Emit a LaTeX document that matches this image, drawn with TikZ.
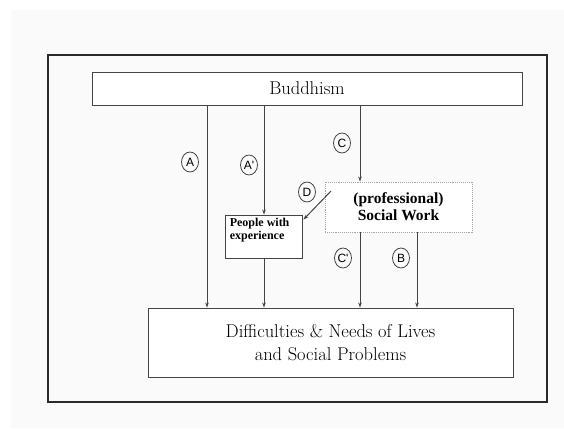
\documentclass[tikz,border=0pt]{standalone}
\usepackage{fontspec}
\newfontfamily\boldserif{Liberation Serif Bold}
\newfontfamily\tagfont{Liberation Sans}
\usetikzlibrary{shapes.geometric,arrows.meta,calc}

\definecolor{ink}{HTML}{444444}
\definecolor{frameink}{HTML}{2A2A2A}
\definecolor{paper}{HTML}{FAFAFA}

\begin{document}
\begin{tikzpicture}[x=1pt,y=-1pt,
  box/.style={draw=ink, line width=0.9pt, fill=white, rectangle, inner sep=0pt},
  flow/.style={draw=ink, line width=1pt, -{Stealth[length=5pt,width=3.5pt]}},
  tag/.style={draw=ink, line width=0.8pt, ellipse, inner sep=0pt,
    minimum width=17pt, minimum height=20pt, font=\tagfont\fontsize{12}{12}\selectfont},
  bigtext/.style={font=\fontsize{18.5}{23}\selectfont, align=center}
]
\useasboundingbox (0,0) rectangle (564,428);
% page background and outer frame
\fill[paper] (11,10) rectangle (564,428);
\draw[frameink, line width=2pt] (48,55) rectangle (547,402);

% main boxes
\node[box, minimum width=430pt, minimum height=33pt, bigtext] (bud) at (307,88.5) {Buddhism};
\node[box, minimum width=365pt, minimum height=69pt, bigtext] (bot) at (330.5,342.5)
  {Difficulties \& Needs of Lives\\and Social Problems};
\node[box, minimum width=77pt, minimum height=43pt] (pe) at (263.5,236.5) {};
\node[anchor=north west, inner sep=0pt, align=left,
  font=\boldserif\fontsize{12}{13}\selectfont] (pet) at ($(pe.north west)+(5,3)$)
  {People with\\experience};
\node[draw=gray!70, densely dotted, line width=0.9pt, fill=white, rectangle, inner sep=0pt,
  minimum width=147pt, minimum height=50pt, align=center,
  font=\boldserif\fontsize{15.5}{17}\selectfont] (sw) at (398.5,207)
  {(professional)\\Social Work};

% column positions of the connectors
\coordinate (xa) at (207,0);
\coordinate (xap) at (264,0);
\coordinate (xc) at (360,0);
\coordinate (xb) at (417,0);
\coordinate (dstart) at (331,191);

% connectors
\draw[flow] (xa |- bud.south) -- (xa |- bot.north);
\draw[flow] (xap |- bud.south) -- (xap |- pe.north);
\draw[flow] (xap |- pe.south) -- (xap |- bot.north);
\draw[flow] (xc |- bud.south) -- (xc |- sw.north);
\draw[flow] (xc |- sw.south) -- (xc |- bot.north);
\draw[flow] (xb |- sw.south) -- (xb |- bot.north);
\draw[flow] (dstart) -- ($(pe.north east)+(1,5)$);

% circled path labels
\node[tag] (ta) at (190,162) {A};
\node[tag] (tap) at (249,165) {A'};
\node[tag] (tc) at (342,143) {C};
\node[tag] (td) at (307,192) {D};
\node[tag] (tcp) at (343,258) {C'};
\node[tag] (tb) at (401,258) {B};
\end{tikzpicture}
\end{document}
